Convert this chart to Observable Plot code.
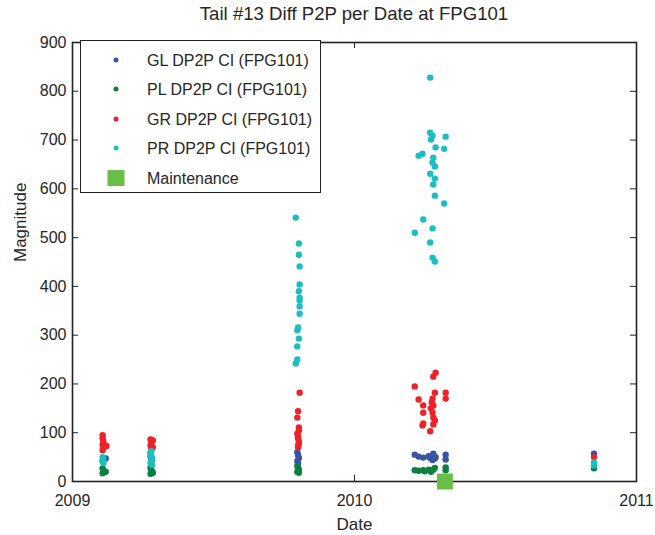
<!DOCTYPE html>
<html>
<head>
<meta charset="utf-8">
<script src="https://cdn.jsdelivr.net/npm/d3@7"></script>
<script src="https://cdn.jsdelivr.net/npm/@observablehq/plot@0.6"></script>
<style>
  body { margin: 0; background: #fff; }
  #wrap { position: relative; width: 655px; height: 535px; font-family: "Liberation Sans", Arial, sans-serif; color: #262626; }
  #title { position: absolute; left: 72px; width: 564px; top: 4px; line-height: 19px; text-align: center; font-size: 18.6px; color: #262626; }
  #legend { position: absolute; left: 80px; top: 40px; width: 241px; height: 153px; box-sizing: border-box; border: 1.5px solid #222; background: #fff; }
  .row { position: absolute; left: 0; height: 20px; width: 100%; }
  .row .mk { position: absolute; transform: translate(-50%, -50%); top: 10px; }
  .row .lb { position: absolute; left: 66px; top: 2px; font-size: 16px; line-height: 18px; color: #262626; white-space: nowrap; }
</style>
</head>
<body>
<div id="wrap">
  <div id="chart"></div>
  <div id="title"></div>
  <div id="legend"></div>
</div>
<script>
// ---------- data ----------
const titleText = "Tail #13 Diff P2P per Date at FPG101";
const xLabel = "Date";
const yLabel = "Magnitude";
const seriesNames = ["GL DP2P CI (FPG101)", "PL DP2P CI (FPG101)", "GR DP2P CI (FPG101)", "PR DP2P CI (FPG101)"];
const maintenanceName = "Maintenance";
const seriesColors = ["#3a53a4", "#0b8040", "#ee2228", "#1bbfc0"];
const maintenanceColor = "#6abd45";
const yTicks = [0, 100, 200, 300, 400, 500, 600, 700, 800, 900];
const xTickYears = ["2009-01-01", "2010-01-01", "2011-01-01"];

const glData = [
  ["2009-02-10",45],["2009-02-13",47],["2009-02-09",42],
  ["2009-04-13",48],["2009-04-14",44],["2009-04-12",52],
  ["2009-10-19",60],["2009-10-20",54],["2009-10-21",48],["2009-10-19",42],["2009-10-20",37],
  ["2010-03-20",55],["2010-03-25",51],["2010-03-31",49],["2010-04-07",52],["2010-04-13",57],["2010-04-15",47],
  ["2010-04-12",44],["2010-04-29",55],["2010-04-29",45],["2010-04-16",50],["2010-04-09",48],
  ["2010-11-07",57]
];
const plData = [
  ["2009-02-09",27],["2009-02-10",22],["2009-02-09",17],["2009-02-13",20],
  ["2009-04-12",28],["2009-04-13",24],["2009-04-14",20],["2009-04-12",16],["2009-04-15",18],
  ["2009-10-19",32],["2009-10-20",28],["2009-10-21",24],["2009-10-19",20],["2009-10-21",18],
  ["2010-03-20",23],["2010-03-25",22],["2010-03-31",23],["2010-04-07",24],["2010-04-13",24],["2010-04-15",28],
  ["2010-04-29",29],["2010-04-29",23],["2010-04-10",20],["2010-04-02",21],
  ["2010-11-07",27]
];
const grData = [
  ["2009-02-09",95],["2009-02-09",88],["2009-02-10",82],["2009-02-09",76],["2009-02-10",70],["2009-02-09",64],["2009-02-14",73],
  ["2009-04-12",86],["2009-04-15",84],["2009-04-13",79],["2009-04-12",74],["2009-04-15",70],["2009-04-13",65],["2009-04-12",59],
  ["2009-10-22",182],["2009-10-20",144],["2009-10-19",131],["2009-10-21",111],["2009-10-19",98],["2009-10-21",104],
  ["2009-10-20",92],["2009-10-20",88],["2009-10-21",82],["2009-10-21",78],["2009-10-20",74],["2009-10-20",70],
  ["2010-04-16",223],["2010-04-13",215],["2010-03-20",195],["2010-04-15",182],["2010-04-29",182],["2010-03-25",168],
  ["2010-04-29",170],["2010-04-12",170],["2010-03-31",156],["2010-04-13",156],["2010-03-31",141],["2010-04-12",141],
  ["2010-04-13",131],["2010-03-31",119],["2010-03-30",115],["2010-04-13",117],["2010-04-09",103],["2010-04-10",150],
  ["2010-04-11",162],["2010-04-15",125],
  ["2010-11-07",50]
];
const prData = [
  ["2009-02-09",50],["2009-02-10",46],["2009-02-09",42],["2009-02-10",38],
  ["2009-04-13",62],["2009-04-12",57],["2009-04-13",52],["2009-04-14",47],["2009-04-13",43],["2009-04-12",38],["2009-04-14",34],
  ["2009-10-17",541],["2009-10-21",488],["2009-10-21",465],["2009-10-22",441],["2009-10-22",404],["2009-10-21",390],
  ["2009-10-22",377],["2009-10-22",371],["2009-10-22",359],["2009-10-22",344],["2009-10-20",316],["2009-10-19",310],
  ["2009-10-21",293],["2009-10-19",277],["2009-10-19",250],["2009-10-17",242],
  ["2010-04-09",828],["2010-04-09",715],["2010-04-12",709],["2010-04-29",707],["2010-04-10",701],["2010-04-16",685],
  ["2010-04-27",682],["2010-03-30",672],["2010-03-25",668],["2010-04-13",664],["2010-04-12",654],["2010-04-15",646],
  ["2010-04-09",631],["2010-04-15",621],["2010-04-13",609],["2010-04-15",586],["2010-04-27",570],["2010-03-31",537],
  ["2010-04-12",519],["2010-03-20",510],["2010-04-09",490],["2010-04-12",459],["2010-04-15",451],
  ["2010-11-07",39],["2010-11-07",33]
];
const maintenanceData = [["2010-04-28",0]];

// ---------- chart ----------
const W = 655, H = 535, mL = 72, mR = 19, mT = 42, mB = 54;
const plotW = W - mL - mR, plotH = H - mT - mB;
const rows = arr => arr.map(([d, v]) => ({date: new Date(d), value: v}));
const allSeries = [glData, plData, grData, prData].map(rows);
const xTicks = xTickYears.map(d => new Date(d));
const font = "Liberation Sans, Arial, sans-serif";

const chart = Plot.plot({
  width: W, height: H,
  marginLeft: mL, marginRight: mR, marginTop: mT, marginBottom: mB,
  style: {fontFamily: font, fontSize: "16px", color: "#262626", background: "#fff", overflow: "visible"},
  x: {type: "utc", domain: [xTicks[0], xTicks[2]]},
  y: {domain: [0, 900]},
  marks: [
    Plot.frame({stroke: "#222", strokeWidth: 1.6}),
    Plot.tickY(yTicks, {y: d => d, insetRight: plotW - 6, stroke: "#222"}),
    Plot.tickY(yTicks, {y: d => d, insetLeft: plotW - 6, stroke: "#222"}),
    Plot.tickX(xTicks, {x: d => d, insetTop: plotH - 6, stroke: "#222"}),
    Plot.tickX(xTicks, {x: d => d, insetBottom: plotH - 6, stroke: "#222"}),
    Plot.axisY({ticks: yTicks, tickSize: 0, tickPadding: 6, fontSize: 16, label: null}),
    Plot.axisX({ticks: xTicks, tickSize: 0, tickPadding: 13, fontSize: 16, tickFormat: d => String(d.getUTCFullYear()), label: null}),
    Plot.text([yLabel], {text: d => d, frameAnchor: "left", dx: -52, rotate: -90, fontSize: 17, fill: "#262626"}),
    Plot.text([xLabel], {text: d => d, frameAnchor: "bottom", dy: 48, fontSize: 17, fill: "#262626"}),
    ...allSeries.map((s, i) => Plot.dot(s, {x: "date", y: "value", r: 3.2, fill: seriesColors[i], stroke: "none"})),
    Plot.dot(rows(maintenanceData), {x: "date", y: "value", symbol: "square", r: 9, fill: maintenanceColor, stroke: "none"})
  ]
});
document.getElementById("chart").appendChild(chart);

// title
document.getElementById("title").textContent = titleText;

// legend
const legend = document.getElementById("legend");
const rowTops = [9, 38, 68, 97, 127];
const entries = seriesNames.map((n, i) => ({name: n, color: seriesColors[i], square: false}))
  .concat([{name: maintenanceName, color: maintenanceColor, square: true}]);
entries.forEach((e, i) => {
  const row = document.createElement("div");
  row.className = "row";
  row.style.top = rowTops[i] + "px";
  const mk = document.createElement("div");
  mk.className = "mk";
  mk.style.left = "35px";
  mk.style.background = e.color;
  if (e.square) { mk.style.width = "17px"; mk.style.height = "16px"; }
  else { mk.style.width = "5px"; mk.style.height = "5px"; mk.style.borderRadius = "50%"; }
  const lb = document.createElement("div");
  lb.className = "lb";
  lb.textContent = e.name;
  row.appendChild(mk); row.appendChild(lb);
  legend.appendChild(row);
});
</script>
</body>
</html>
